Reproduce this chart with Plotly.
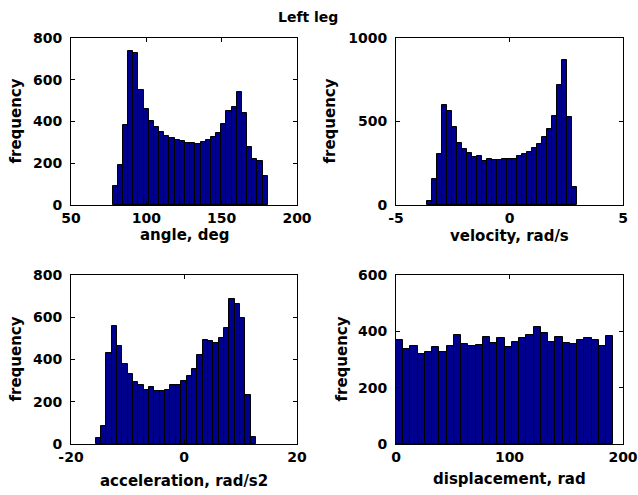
import numpy as np
import plotly.graph_objects as go

# ---- data ----
angle_counts = [93, 192, 381, 739, 730, 550, 458, 402, 376, 352, 331, 320, 310, 306, 296,
                299, 294, 304, 310, 325, 346, 386, 451, 470, 541, 440, 280, 218, 211, 138]
angle_range = (77.6, 180.6)

velocity_counts = [26, 154, 308, 600, 564, 470, 370, 334, 314, 290, 296, 264, 276, 268, 268,
                   276, 276, 276, 296, 308, 320, 344, 364, 406, 458, 532, 716, 868, 524, 108]
velocity_range = (-3.62, 2.99)

accel_counts = [29, 87, 432, 559, 465, 381, 332, 294, 279, 258, 269, 253, 253, 258, 280,
                280, 299, 323, 356, 422, 493, 488, 477, 504, 550, 687, 664, 597, 234, 33]
accel_range = (-15.63, 12.74)

disp_counts = [371, 339, 349, 318, 328, 346, 325, 349, 387, 354, 349, 353, 380, 357, 375,
               346, 361, 375, 387, 417, 393, 361, 380, 357, 354, 369, 375, 368, 347, 383]
disp_range = (0.0, 191.4)

x_labels = ["angle, deg", "velocity, rad/s", "acceleration, rad/s2", "displacement, rad"]
y_label = "frequency"
title = "Left leg"

x_ticks = [[50, 100, 150, 200], [-5, 0, 5], [-20, 0, 20], [0, 100, 200]]
x_ranges = [[50, 200], [-5, 5], [-20, 20], [0, 200]]
y_ticks = [[0, 200, 400, 600, 800], [0, 500, 1000], [0, 200, 400, 600, 800], [0, 200, 400, 600]]
y_ranges = [[0, 800], [0, 1000], [0, 800], [0, 600]]

W, H = 638, 495
BAR_COLOR = "rgb(0,0,143)"
FONT = "DejaVu Sans"

hists = [(angle_counts, angle_range), (velocity_counts, velocity_range),
         (accel_counts, accel_range), (disp_counts, disp_range)]

# axes boxes in pixels (left, right, top, bottom)
boxes = [(71, 297, 38, 205), (396, 623, 38, 205), (71, 297, 275, 444), (396, 623, 275, 444)]
ylabel_x = [15, 329, 15, 341]
xlabel_y = [235, 236, 481, 479]

fig = go.Figure()
layout = dict(template="none", width=W, height=H, margin=dict(l=0, r=0, t=0, b=0, autoexpand=False),
              paper_bgcolor="white", plot_bgcolor="white", showlegend=False,
              bargap=0, font=dict(family=FONT, size=14, color="black"))
annotations = []

for i, ((counts, (lo, hi)), box) in enumerate(zip(hists, boxes)):
    n = len(counts)
    edges = np.linspace(lo, hi, n + 1)
    centers = (edges[:-1] + edges[1:]) / 2
    w = edges[1] - edges[0]
    xa = "x" if i == 0 else f"x{i+1}"
    ya = "y" if i == 0 else f"y{i+1}"
    fig.add_trace(go.Bar(x=centers, y=counts, width=w, xaxis=xa, yaxis=ya,
                         marker=dict(color=BAR_COLOR, line=dict(color="black", width=1))))
    l, r, t, b = box
    axcommon = dict(showline=True, linecolor="black", linewidth=1, mirror="ticks",
                    ticks="inside", ticklen=4, tickcolor="black", showgrid=False,
                    zeroline=False, automargin=False,
                    tickfont=dict(family=FONT, size=14, color="black"))
    xkey = "xaxis" if i == 0 else f"xaxis{i+1}"
    ykey = "yaxis" if i == 0 else f"yaxis{i+1}"
    layout[xkey] = dict(axcommon, domain=[l / W, r / W], range=x_ranges[i],
                        tickvals=x_ticks[i], ticktext=[f"<b>{v}</b>" for v in x_ticks[i]],
                        anchor=ya, ticklabelstandoff=0)
    layout[ykey] = dict(axcommon, domain=[1 - b / H, 1 - t / H], range=y_ranges[i],
                        tickvals=y_ticks[i], ticktext=[f"<b>{v}</b>" for v in y_ticks[i]],
                        anchor=xa, ticklabelstandoff=5)
    annotations.append(dict(text=f"<b>{x_labels[i]}</b>", xref="paper", yref="paper",
                            x=(l + r) / 2 / W, y=1 - xlabel_y[i] / H, showarrow=False,
                            xanchor="center", yanchor="middle",
                            font=dict(family=FONT, size=15, color="black")))
    annotations.append(dict(text=f"<b>{y_label}</b>", xref="paper", yref="paper",
                            x=ylabel_x[i] / W, y=1 - (t + b) / 2 / H, showarrow=False,
                            textangle=-90, xanchor="center", yanchor="middle",
                            font=dict(family=FONT, size=15, color="black")))

annotations.append(dict(text=f"<b>{title}</b>", xref="paper", yref="paper",
                        x=308 / W, y=1 - 17 / H, showarrow=False,
                        xanchor="center", yanchor="middle",
                        font=dict(family=FONT, size=14, color="black")))
layout["annotations"] = annotations
fig.update_layout(**layout)
fig.write_html("out.html")
